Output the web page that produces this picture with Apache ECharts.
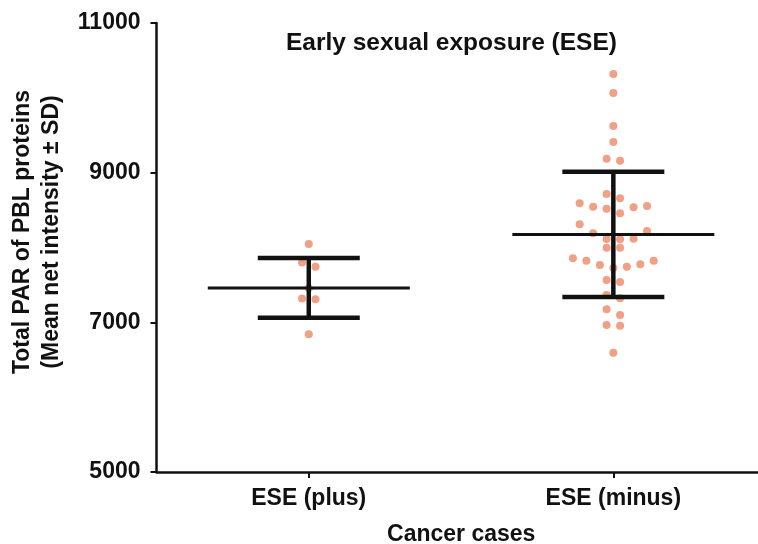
<!DOCTYPE html>
<html>
<head>
<meta charset="utf-8">
<title>Early sexual exposure (ESE)</title>
<script src="https://cdn.jsdelivr.net/npm/echarts@6/dist/echarts.min.js"></script>
<style>
  html, body { margin: 0; padding: 0; background: #ffffff; }
  #chart { width: 758px; height: 544px; }
</style>
</head>
<body>
<div id="chart"></div>
<script>
// Groups along the x axis
const categories = ['ESE (plus)', 'ESE (minus)'];

// Individual cases: total PAR of PBL proteins (mean net intensity)
const esePlus = [8047, 7800, 7744, 7455, 7320, 7310, 6840];
const eseMinus = [
  10319, 10065, 9624, 9410, 9187, 9160,
  8715, 8657, 8591, 8555, 8546, 8537, 8519, 8457,
  8310, 8221, 8190, 8118, 8114, 8109,
  7998, 7998,
  7856, 7824, 7824, 7776, 7766, 7744, 7726,
  7566, 7539, 7365, 7321, 7174, 7098, 6964, 6955, 6594
];

// Group summaries: mean and standard deviation
const meanValues = [7460, 8175];
const sdValues = [400, 837];

// Value axis ticks
const yTicks = [5000, 7000, 9000, 11000];

const FONT = "'Liberation Sans', Arial, Helvetica, sans-serif";
const DOT_COLOR = '#ee9677';
const BAND_PX = 305;          // pixel width of one group band
const SLOT_PX = 13.5;         // horizontal spacing of dots within a row
const SLOT = SLOT_PX / BAND_PX;

// Arrange a group's values into horizontal rows of a dot swarm:
// neighbouring values closer than `gap` share a row, and rows that
// get too crowded are split at their widest internal gap.
function swarmRows(values, gap, maxPerRow) {
  const sorted = values.slice().sort((a, b) => b - a);
  const rows = [];
  let cur = [sorted[0]];
  for (let i = 1; i < sorted.length; i++) {
    if (cur[cur.length - 1] - sorted[i] > gap) { rows.push(cur); cur = [sorted[i]]; }
    else cur.push(sorted[i]);
  }
  rows.push(cur);
  const out = [];
  const split = r => {
    if (r.length <= maxPerRow) { out.push(r); return; }
    let k = 1, best = -1;
    for (let j = 1; j < r.length; j++) {
      const g = r[j - 1] - r[j];
      if (g > best) { best = g; k = j; }
    }
    split(r.slice(0, k)); split(r.slice(k));
  };
  rows.forEach(split);
  return out;
}

// Place each row symmetrically about the group centre, filling slots
// from the outside in, alternating left and right.
function swarmPoints(values, groupIndex) {
  const pts = [];
  swarmRows(values, 100, 7).forEach(row => {
    const n = row.length;
    const order = [];
    let lo = 0, hi = n - 1;
    while (lo <= hi) { order.push(lo); if (hi !== lo) order.push(hi); lo++; hi--; }
    row.forEach((v, i) => {
      const slot = order[i] - (n - 1) / 2;
      pts.push([groupIndex + slot * SLOT, v]);
    });
  });
  return pts;
}

const groups = [esePlus, eseMinus];
const dotData = [];
groups.forEach((vals, gi) => swarmPoints(vals, gi).forEach(p => dotData.push(p)));

const barData = categories.map((c, i) => [i, meanValues[i], sdValues[i]]);

const chart = echarts.init(document.getElementById('chart'), null, { renderer: 'canvas' });

const labelStyle = { fontFamily: FONT, fontSize: 23, fontWeight: 'bold', color: '#111' };

chart.setOption({
  animation: false,
  backgroundColor: '#ffffff',
  title: {
    text: 'Early sexual exposure (ESE)',
    left: 286,
    top: 31,
    padding: 0,
    textStyle: { fontFamily: FONT, fontSize: 24.5, fontWeight: 'bold', color: '#111' }
  },
  grid: { left: 156.5, top: 23, bottom: 72, right: 0, containLabel: false, outerBoundsMode: 'none' },
  xAxis: {
    type: 'value',
    min: -0.5,
    max: 1.475,
    name: 'Cancer cases',
    nameLocation: 'middle',
    nameGap: 51,
    nameTextStyle: Object.assign({ padding: [0, 0, 0, 8] }, labelStyle),
    axisLine: { show: true, onZero: false, lineStyle: { color: '#111', width: 2.5 } },
    axisTick: { show: true, customValues: [0, 1], length: 6, lineStyle: { color: '#111', width: 2 } },
    axisLabel: Object.assign({
      customValues: [0, 1],
      formatter: v => categories[Math.round(v)],
      margin: 15
    }, labelStyle),
    splitLine: { show: false }
  },
  yAxis: {
    type: 'value',
    min: 5000,
    max: 11000,
    interval: 2000,
    axisLine: { show: true, onZero: false, lineStyle: { color: '#111', width: 2.5 } },
    axisTick: { show: true, length: 6, lineStyle: { color: '#111', width: 2 } },
    axisLabel: Object.assign({
      margin: 16,
      formatter: v => (yTicks.indexOf(v) >= 0 ? String(v) : '')
    }, labelStyle),
    splitLine: { show: false }
  },
  graphic: [{
    type: 'text',
    x: 37,
    y: 232,
    rotation: Math.PI / 2,
    style: {
      text: 'Total PAR of PBL proteins\n(Mean net intensity \u00b1 SD)',
      fontFamily: FONT,
      fontSize: 23,
      fontWeight: 'bold',
      fill: '#111',
      align: 'center',
      verticalAlign: 'middle',
      lineHeight: 29
    }
  }],
  series: [
    {
      name: 'cases',
      type: 'scatter',
      symbol: 'circle',
      symbolSize: 8,
      itemStyle: { color: DOT_COLOR, opacity: 0.9 },
      data: dotData,
      z: 2
    },
    {
      name: 'mean \u00b1 SD',
      type: 'custom',
      z: 3,
      data: barData,
      renderItem: (params, api) => {
        const x = api.value(0), m = api.value(1), sd = api.value(2);
        const c = api.coord([x, m]);
        const top = api.coord([x, m + sd]);
        const bot = api.coord([x, m - sd]);
        const meanHalf = 101, capHalf = 51;
        const stroke = { stroke: '#111', lineCap: 'butt' };
        return {
          type: 'group',
          children: [
            { type: 'line', shape: { x1: c[0] - meanHalf, y1: c[1], x2: c[0] + meanHalf, y2: c[1] },
              style: Object.assign({ lineWidth: 3 }, stroke) },
            { type: 'line', shape: { x1: top[0], y1: top[1], x2: bot[0], y2: bot[1] },
              style: Object.assign({ lineWidth: 4.5 }, stroke) },
            { type: 'line', shape: { x1: top[0] - capHalf, y1: top[1], x2: top[0] + capHalf, y2: top[1] },
              style: Object.assign({ lineWidth: 4.5 }, stroke) },
            { type: 'line', shape: { x1: bot[0] - capHalf, y1: bot[1], x2: bot[0] + capHalf, y2: bot[1] },
              style: Object.assign({ lineWidth: 4.5 }, stroke) }
          ]
        };
      }
    }
  ]
});
</script>
</body>
</html>
